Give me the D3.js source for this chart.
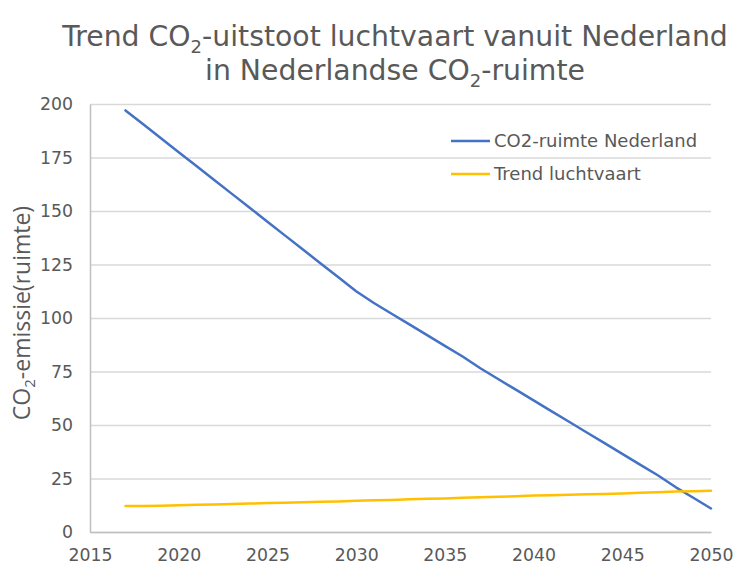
<!DOCTYPE html>
<html>
<head>
<meta charset="utf-8">
<script src="https://cdn.jsdelivr.net/npm/d3@7"></script>
<style>
  body { margin: 0; background: #fff; }
  text { font-family: "DejaVu Sans", Verdana, sans-serif; fill: #595959; }
</style>
</head>
<body>
<div class="chart"></div>
<script>
// data
var years = d3.range(2017, 2051);
var ruimte = [197, 190.5, 184, 177.5, 171, 164.5, 158, 151.5, 145, 138.5, 132, 125.5, 119,
  112.5, 107, 102, 97, 92, 87, 82, 76.5, 71.5, 66.5, 61.5, 56.5, 51.5, 46.5, 41.5, 36.5, 31.5, 26.5, 21, 16, 11];
var luchtvaart = [12.2, 12.2, 12.3, 12.5, 12.7, 12.9, 13.1, 13.3, 13.5, 13.7, 13.9, 14.1, 14.3,
  14.6, 14.8, 15.0, 15.3, 15.5, 15.7, 16.0, 16.2, 16.5, 16.7, 17.0, 17.2, 17.4, 17.6, 17.8, 18.0,
  18.3, 18.6, 18.9, 19.1, 19.3];
var xTicks = [2015, 2020, 2025, 2030, 2035, 2040, 2045, 2050];
var yTicks = [0, 25, 50, 75, 100, 125, 150, 175, 200];
var seriesNames = ["CO2-ruimte Nederland", "Trend luchtvaart"];
var colors = ["#4472c4", "#ffc000"];

var svgWidth = 736;
var svgHeight = 565;
var margin = { top: 104, right: 25, bottom: 33, left: 90 };
var chartWidth = svgWidth - margin.left - margin.right;
var chartHeight = svgHeight - margin.top - margin.bottom;

var svg = d3.select(".chart")
  .append("svg")
  .attr("width", svgWidth)
  .attr("height", svgHeight);

// title with subscripts
var title = svg.append("text")
  .attr("text-anchor", "middle")
  .attr("font-size", 28.3);
var l1 = title.append("tspan").attr("x", 395).attr("y", 46);
l1.append("tspan").text("Trend CO");
l1.append("tspan").attr("font-size", 18).attr("dy", 7).text("2");
l1.append("tspan").attr("dy", -7).text("-uitstoot luchtvaart vanuit Nederland");
var l2 = title.append("tspan").attr("x", 395).attr("y", 80);
l2.append("tspan").text("in Nederlandse CO");
l2.append("tspan").attr("font-size", 18).attr("dy", 7).text("2");
l2.append("tspan").attr("dy", -7).text("-ruimte");

var chartGroup = svg.append("g")
  .attr("transform", `translate(${margin.left}, ${margin.top})`);

var xScale = d3.scaleLinear().domain([2015, 2050]).range([0, chartWidth]);
var yScale = d3.scaleLinear().domain([0, 200]).range([chartHeight, 0]);

// gridlines
chartGroup.append("g")
  .call(d3.axisLeft(yScale).tickValues(yTicks).tickSize(-chartWidth).tickFormat(""))
  .call(g => g.select(".domain").remove())
  .selectAll("line")
  .attr("stroke", "#d9d9d9")
  .attr("stroke-width", 1.5);

// y axis
var leftAxis = chartGroup.append("g")
  .call(d3.axisLeft(yScale).tickValues(yTicks).tickSize(0).tickPadding(17));
leftAxis.select(".domain").attr("stroke", "#bfbfbf").attr("stroke-width", 1.5);
leftAxis.selectAll("text").attr("font-size", 17.3).attr("fill", "#595959")
  .style("font-family", "DejaVu Sans");

// x axis
var bottomAxis = chartGroup.append("g")
  .attr("transform", `translate(0, ${chartHeight})`)
  .call(d3.axisBottom(xScale).tickValues(xTicks).tickFormat(d3.format("d")).tickSize(0).tickPadding(17));
bottomAxis.select(".domain").attr("stroke", "#bfbfbf").attr("stroke-width", 1.5);
bottomAxis.selectAll("text").attr("font-size", 17.3).attr("fill", "#595959")
  .style("font-family", "DejaVu Sans");

// y label
var yLabel = svg.append("text")
  .attr("transform", `translate(30, 313) rotate(-90)`)
  .attr("text-anchor", "middle")
  .attr("font-size", 23)
  .style("font-family", "Open Sans");
yLabel.append("tspan").text("CO");
yLabel.append("tspan").attr("font-size", 15).attr("dy", 5).text("2");
yLabel.append("tspan").attr("dy", -5).text("-emissie(ruimte)");

// lines
var line = d3.line()
  .x((d, i) => xScale(years[i]))
  .y(d => yScale(d));

[ruimte, luchtvaart].forEach(function(values, i) {
  chartGroup.append("path")
    .datum(values)
    .attr("fill", "none")
    .attr("stroke", colors[i])
    .attr("stroke-width", 2.5)
    .attr("stroke-linejoin", "round")
    .attr("stroke-linecap", "round")
    .attr("d", line);
});

// legend
var legend = svg.append("g").attr("transform", "translate(451, 141)");
seriesNames.forEach(function(name, i) {
  var row = legend.append("g").attr("transform", `translate(0, ${i * 33})`);
  row.append("line")
    .attr("x1", 0).attr("x2", 39)
    .attr("stroke", colors[i])
    .attr("stroke-width", 2.5);
  row.append("text")
    .attr("x", 43)
    .attr("dy", "0.35em")
    .attr("font-size", 18)
    .text(name);
});
</script>
</body>
</html>
